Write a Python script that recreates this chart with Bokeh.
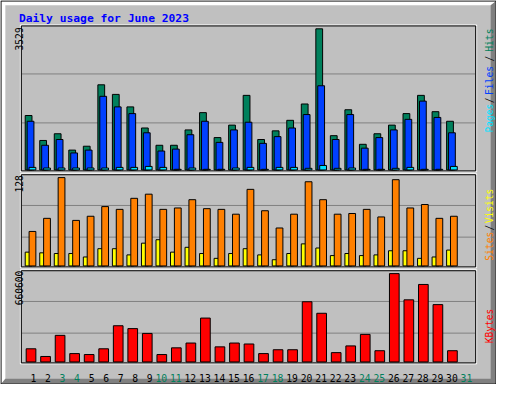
import datetime
from math import pi
from bokeh.plotting import figure
from bokeh.models import Range1d, Label, ColumnDataSource
from bokeh.embed import file_html
from bokeh.resources import INLINE
from bokeh.core.properties import value

# ---------------- data ----------------
YEAR = 2023
MONTH = 6
MONTH_NAME = "June"
days = list(range(1, 32))
hits = [1361, 737, 905, 496, 593, 2129, 1889, 1577, 1049, 617, 617, 1001, 1433, 809, 1121,
        1865, 761, 977, 1241, 1649, 3529, 857, 1505, 641, 905, 1121, 1409, 1865, 1457, 1217, 0]
files = [1217, 617, 761, 425, 496, 1841, 1577, 1409, 929, 473, 521, 881, 1217, 689, 1001,
         1193, 665, 833, 1049, 1385, 2105, 761, 1385, 545, 809, 1001, 1265, 1721, 1313, 929, 0]
pages = [64, 48, 48, 48, 48, 48, 64, 64, 88, 64, 16, 48, 16, 16, 48,
         64, 16, 64, 64, 40, 112, 40, 48, 16, 16, 40, 64, 16, 16, 88, 0]
visits = [20, 19, 18, 18, 13, 25, 25, 16, 33, 38, 20, 27, 18, 11, 18,
          25, 16, 9, 18, 32, 26, 15, 18, 15, 16, 22, 22, 11, 13, 23, 0]
sites = [50, 69, 128, 66, 72, 86, 82, 98, 104, 82, 84, 96, 83, 82, 75,
         111, 80, 55, 75, 122, 96, 75, 76, 82, 71, 125, 84, 89, 69, 72, 0]
kbytes = [98370, 40900, 198900, 62500, 55300, 98400, 270700, 249200, 213300, 55300, 105500,
          141400, 328100, 112700, 141400, 134300, 62500, 91200, 91200, 450200, 364000, 69650,
          119900, 206100, 84000, 660600, 464600, 579500, 428700, 84000, 0]

# ---------------- colours ----------------
C_BG = "#C0C0C0"
C_DARK = "#808080"
C_HITS = "#00805C"
C_FILES = "#0040FF"
C_PAGES = "#00E0FF"
C_VISITS = "#FFFF00"
C_SITES = "#FF8000"
C_KB = "#FF0000"
C_TITLE = "#0000FF"
C_WEEKEND = "#00805C"
MONO = "DejaVu Sans Mono"

maxh = max(hits + files + pages)
maxv = max(visits + sites)
maxk = max(kbytes)

W, H = 496, 384          # page window 512x400 minus 8px margins
RW, RH = 512, 400        # reference drawing space

p = figure(width=W, height=H, output_backend="svg", toolbar_location=None,
           x_range=Range1d(0, RW), y_range=Range1d(RH, 0),
           x_axis_type=None, y_axis_type=None, min_border=0,
           background_fill_color=C_BG, border_fill_color=C_BG,
           outline_line_color=None)
p.grid.visible = False

# day axis: left edge of slot d sits at 25 + 15*(d-1) in drawing space
X0, STEP = 25, 15
p.extra_x_ranges = {"day": Range1d(1 - X0 / STEP, 1 + (RW - X0) / STEP)}


def value_range(base, span, vmax):
    # value 0 at drawing-y `base`, vmax at `base - span`
    return Range1d(-(RH - base) * vmax / span, base * vmax / span)


p.extra_y_ranges = {
    "p1": value_range(176.5, 147, maxh),
    "p2": value_range(276.5, 92, maxv),
    "p3": value_range(376.5, 92, maxk),
}

# ---------------- outer bevel ----------------
p.patches(xs=[[1, 511, 506, 5, 5, 1], [511, 511, 1, 5, 506, 506]],
          ys=[[1, 1, 5, 5, 394, 399], [1, 399, 399, 394, 394, 5]],
          fill_color=["white", C_DARK], line_color=None)
p.quad(left=[0.5], right=[511.5], top=[0.5], bottom=[399.5],
       fill_color=None, line_color="black", line_width=1)

# ---------------- gridlines ----------------
grid_y = [76.5, 127.5, 213.5, 246.5, 313.5, 346.5]
p.segment(x0=[22] * 6, x1=[490] * 6, y0=grid_y, y1=grid_y,
          line_color=C_DARK, line_width=1)


def bars(vals, offset, width, color, rng):
    xs = [d + offset / STEP for d, v in zip(days, vals) if v > 0]
    tops = [v for v in vals if v > 0]
    p.vbar(x=xs, top=tops, bottom=0, width=width / STEP,
           fill_color=color, line_color="black", line_width=1,
           x_range_name="day", y_range_name=rng)


bars(hits, 4, 7, C_HITS, "p1")
bars(files, 6, 7, C_FILES, "p1")
bars(pages, 8, 7, C_PAGES, "p1")
bars(visits, 4, 7, C_VISITS, "p2")
bars(sites, 8, 7, C_SITES, "p2")
bars(kbytes, 6.5, 10, C_KB, "p3")

# ---------------- panel frames ----------------
panels = [(26, 177), (181, 277), (281, 377)]
for top, bot in panels:
    p.quad(left=[20.5], right=[491.5], top=[top - 0.5], bottom=[bot + 1.5],
           fill_color=None, line_color="white", line_width=1)
    p.quad(left=[21.5], right=[490.5], top=[top + 0.5], bottom=[bot + 0.5],
           fill_color=None, line_color="black", line_width=1)

# ---------------- day labels ----------------
first_wd = datetime.date(YEAR, MONTH, 1).weekday()
label_colors = [C_WEEKEND if (first_wd + d - 1) % 7 >= 5 else "black" for d in days]
lab_src = ColumnDataSource(dict(x=[d + 12 / STEP for d in days], y=[393] * len(days),
                                text=[str(d) for d in days], color=label_colors))
p.text(x="x", y="y", text="text", source=lab_src, x_range_name="day",
       text_color="color", text_align="right", text_baseline="alphabetic",
       text_font=value(MONO), text_font_size=value("9.7px"))

# ---------------- title ----------------
p.add_layout(Label(x=19, y=19, text=f"Daily usage for {MONTH_NAME} {YEAR}",
                   text_color=C_TITLE, text_font=MONO, text_font_style="bold",
                   text_font_size="11.3px", text_baseline="alphabetic"))

# ---------------- max labels (left, rotated) ----------------
max_txt = [str(maxh), str(maxv), str(maxk)]
max_top = [28, 182, 281.5]
max_src = ColumnDataSource(dict(x=[19.3] * 3,
                                y=[t + 3 * len(s) for t, s in zip(max_top, max_txt)],
                                text=max_txt))
p.text(x="x", y="y", text="text", source=max_src, angle=pi / 2,
       text_align="center", text_baseline="alphabetic", text_color="black",
       text_font=value(MONO), text_font_size=value("9.6px"))

# ---------------- legend labels (right, rotated) ----------------
legend_items = [("Hits", 41.3, C_HITS), ("/", 60.5, "black"), ("Files", 83.3, C_FILES),
                ("/", 104, "black"), ("Pages", 122.5, C_PAGES),
                ("Visits", 214, C_VISITS), ("/", 236.7, "black"), ("Sites", 256, C_SITES),
                ("KBytes", 339, C_KB)]
for txt, yc, col in legend_items:
    p.add_layout(Label(x=504.5, y=yc, text=txt, angle=pi / 2,
                       text_align="center", text_baseline="alphabetic",
                       text_font=MONO, text_font_size="9.6px", text_color=col))

open("out.html", "w").write(file_html(p, INLINE))
